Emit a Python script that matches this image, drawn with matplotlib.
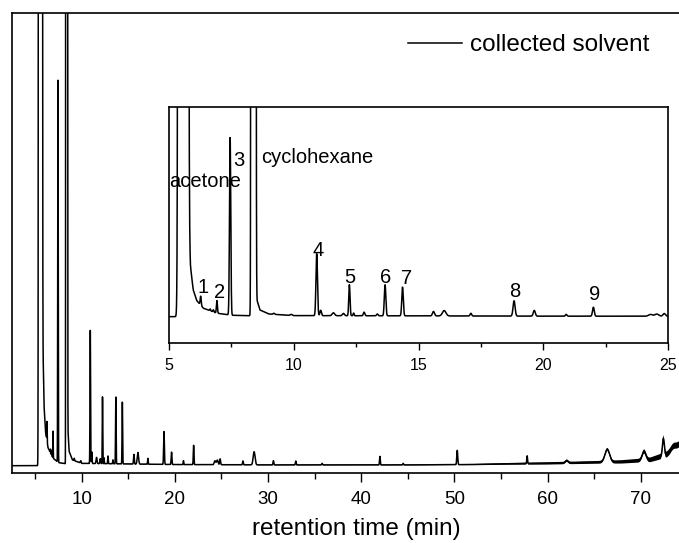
import numpy as np
import matplotlib

matplotlib.use("Agg")
import matplotlib.pyplot as plt
from matplotlib.lines import Line2D
from matplotlib.ticker import MultipleLocator

plt.rcParams["font.family"] = ["Liberation Sans", "DejaVu Sans"]

# GC peaks of the collected solvent: retention time (min), height, width (sigma, min)
peak_rt = [
    5.57, 6.27, 6.65, 6.78, 6.92, 7.45, 8.385, 9.2, 9.9,
    10.92, 11.08, 11.59, 11.99, 12.23, 12.4, 12.82, 13.35, 13.66, 14.36,
    15.6, 16.03, 17.1, 18.83, 19.64, 20.92, 22.01, 24.3, 24.55, 24.85,
    27.3, 28.5, 30.57, 32.97, 35.8, 42.0, 44.5, 50.3, 57.8, 62.06,
    66.4, 70.35, 72.42, 73.5, 74.3,
]
peak_height = [
    1e6, 5.0, 1.0, 1.2, 7.0, 99.0, 1e6, 0.6, 0.6,
    34.5, 3.0, 1.6, 1.3, 17.3, 1.5, 2.0, 1.0, 17.3, 16.0,
    2.5, 3.0, 1.5, 8.5, 3.2, 1.0, 5.0, 1.0, 1.2, 1.5,
    1.0, 3.4, 1.1, 1.0, 0.4, 2.2, 0.4, 3.7, 2.0, 0.6,
    3.3, 2.3, 4.5, 1.5, 2.0,
]
peak_sigma = [
    0.055, 0.02, 0.02, 0.02, 0.02, 0.025, 0.027, 0.03, 0.04,
    0.03, 0.03, 0.05, 0.04, 0.025, 0.02, 0.03, 0.03, 0.03, 0.03,
    0.04, 0.07, 0.03, 0.04, 0.04, 0.03, 0.035, 0.08, 0.08, 0.05,
    0.04, 0.1, 0.04, 0.04, 0.04, 0.04, 0.04, 0.05, 0.04, 0.15,
    0.25, 0.2, 0.1, 0.3, 0.4,
]

# solvent tailing and baseline drift
base_rt = [2.5, 5.6, 5.82, 5.86, 5.97, 6.11, 6.38, 6.9, 7.5, 8.3, 8.5, 8.53, 8.65,
           9.0, 10.0, 20.0, 30.0, 45.0, 52.0, 56.0, 60.0, 64.0, 68.0, 71.0, 73.0, 75.0]
base_level = [0.0, 0.0, 40.0, 28.0, 15.0, 9.0, 4.7, 2.0, 0.8, 0.5, 20.0, 9.0, 3.7,
              1.5, 0.6, 0.3, 0.2, 0.2, 0.3, 0.5, 0.6, 0.8, 1.0, 1.5, 3.0, 4.0]

# detector noise band (half width) at late retention times
noise_rt = [2.5, 50.0, 55.0, 60.0, 65.0, 70.0, 73.0, 75.0]
noise_half = [0.05, 0.1, 0.2, 0.3, 0.35, 0.5, 0.8, 0.8]

peak_labels = ["1", "2", "3", "4", "5", "6", "7", "8", "9"]
label_rt = [6.38, 7.04, 7.78, 10.96, 12.26, 13.69, 14.53, 18.85, 22.05]
label_y = [16.2, 13.6, 87.3, 36.8, 22.0, 22.0, 21.4, 14.3, 12.1]

FS_TICK = 13.5
FS_TEXT = 14.5
FS_BIG = 17.5
LW = 1.1


def build_trace(rt):
    signal = np.interp(rt, base_rt, base_level)
    for c, h, s in zip(peak_rt, peak_height, peak_sigma):
        signal = signal + h * np.exp(-0.5 * ((rt - c) / s) ** 2)
    return signal


def draw_trace(ax, rt, signal, half):
    ax.fill_between(rt, signal - half, signal + half, color="black", lw=0)
    ax.plot(rt, signal, color="black", lw=LW)


def style_axes(ax, major, minor, size, major_len, minor_len, pad):
    ax.set_yticks([])
    ax.xaxis.set_major_locator(MultipleLocator(major))
    ax.xaxis.set_minor_locator(MultipleLocator(minor))
    ax.tick_params(axis="x", which="both", direction="out", width=1.0, labelsize=size)
    ax.tick_params(axis="x", which="major", length=major_len, pad=pad)
    ax.tick_params(axis="x", which="minor", length=minor_len)
    for spine in ax.spines.values():
        spine.set_linewidth(1.2)


def main() -> int:
    rt = np.arange(2.5, 75.5, 0.005)
    signal = build_trace(rt)
    half = np.interp(rt, noise_rt, noise_half)

    fig = plt.figure(figsize=(6.79, 5.43), dpi=100)

    ax = fig.add_axes([0.0181, 0.1295, 0.9943, 0.8457])
    draw_trace(ax, rt, signal, half)
    ax.set_xlim(2.55, 75.0)
    ax.set_ylim(-1.81, 117.2)
    style_axes(ax, 10, 5, FS_TICK, 6.5, 4.3, 6.5)
    ax.set_xlabel("retention time (min)", fontsize=FS_BIG)
    ax.xaxis.set_label_coords(0.509, -0.099)

    handle = Line2D([], [], color="black", lw=LW)
    ax.legend([handle], ["collected solvent"], loc="upper left",
              bbox_to_anchor=(0.601, 0.937), bbox_transform=fig.transFigure,
              frameon=False, fontsize=FS_BIG, borderpad=0, borderaxespad=0,
              handlelength=2.2, handletextpad=0.33)

    inset = fig.add_axes([0.2489, 0.3689, 0.7349, 0.4346])
    inset.set_facecolor("white")
    draw_trace(inset, rt, signal, half)
    inset.set_xlim(5, 25)
    inset.set_ylim(-14.5, 117.1)
    style_axes(inset, 5, 2.5, 11.5, 5, 3, 6)

    inset.text(5.0, 75.2, "acetone", fontsize=FS_TEXT, ha="left", va="center")
    inset.text(8.69, 88.6, "cyclohexane", fontsize=FS_TEXT, ha="left", va="center")
    for name, x, y in zip(peak_labels, label_rt, label_y):
        inset.text(x, y, name, fontsize=FS_TEXT, ha="center", va="center")

    fig.savefig("out.png", dpi=100)
    plt.close(fig)
    return 0


if __name__ == "__main__":
    raise SystemExit(main())
